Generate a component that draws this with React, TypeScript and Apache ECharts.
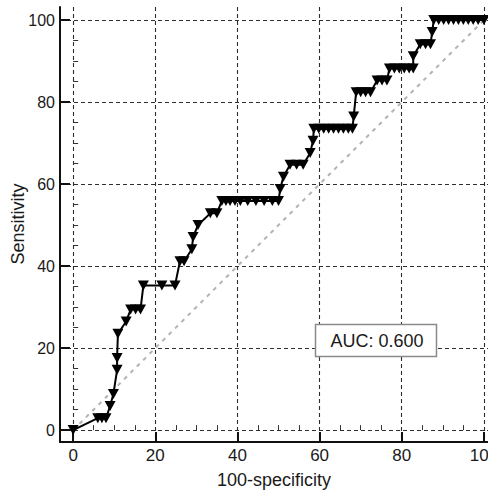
import React, { useEffect, useRef } from "react";
import * as echarts from "echarts";

// 100-specificity (x) and sensitivity (y) of each ROC point
const falsePositive = [
  0, 6, 7, 8, 9, 9.8, 10.7, 10.7, 10.9, 12.9, 14, 15.2, 16.4, 17.1, 21.6, 24.8,
  26, 27, 28.9, 29.2, 30.4, 33.4, 35, 36.2, 37.2, 38.2, 39.4, 40.7, 42.5, 44.5,
  46.5, 48.5, 50, 50.4, 51.2, 52.8, 54.4, 56, 57.7, 58.4, 58.6, 59.8, 61, 62.2,
  63.4, 64.6, 65.8, 67, 68, 68.3, 68.9, 70, 71.2, 72.4, 74, 75.2, 76.4, 77, 78.2,
  79.4, 80.6, 81.8, 82.8, 82.8, 84.5, 85.8, 87, 87.4, 87.8, 89, 90.2, 91.4, 92.6,
  93.8, 95, 96.2, 97.4, 98.6, 100,
];
const sensitivity = [
  0, 2.9, 2.9, 2.9, 5.9, 8.8, 14.7, 17.6, 23.5, 26.5, 29.4, 29.4, 29.4, 35.3,
  35.3, 35.3, 41.2, 41.2, 44.1, 47.1, 50, 52.9, 52.9, 55.9, 55.9, 55.9, 55.9,
  55.9, 55.9, 55.9, 55.9, 55.9, 55.9, 58.8, 61.8, 64.7, 64.7, 64.7, 67.6, 70.6,
  73.5, 73.5, 73.5, 73.5, 73.5, 73.5, 73.5, 73.5, 73.5, 76.5, 82.4, 82.4, 82.4,
  82.4, 85.3, 85.3, 85.3, 88.2, 88.2, 88.2, 88.2, 88.2, 88.2, 91.2, 94.1, 94.1,
  94.1, 97.1, 100, 100, 100, 100, 100, 100, 100, 100, 100, 100, 100,
];
const referenceX = [0, 100];
const referenceY = [0, 100];
const majorTicks = [0, 20, 40, 60, 80, 100];
const minorTicks = [5, 10, 15, 25, 30, 35, 45, 50, 55, 65, 70, 75, 85, 90, 95];
const aucLabel = "AUC: 0.600";
const xTitle = "100-specificity";
const yTitle = "Sensitivity";

const FONT = "'Liberation Sans', Arial, Helvetica, sans-serif";
const TEXT = "#1a1a1a";

export default function App() {
  const ref = useRef<HTMLDivElement>(null);
  useEffect(() => {
    if (!ref.current) return;
    const chart = echarts.init(ref.current, undefined, { renderer: "svg" });
    const xMin = -3.2;
    const xMax = 101;
    const yMin = -2.9;
    const yMax = 103.2;
    const gridLine = { show: true, lineStyle: { color: "#2e2e2e", type: [4, 3] as any, width: 1.1 } };
    chart.setOption({
      animation: false,
      backgroundColor: "#fff",
      textStyle: { fontFamily: FONT },
      grid: { left: 60, right: 0, top: 7, bottom: 48, containLabel: false, outerBoundsMode: "none" },
      xAxis: [
        {
          type: "value",
          min: xMin,
          max: xMax,
          position: "bottom",
          name: xTitle,
          nameLocation: "middle",
          nameGap: 29,
          nameTextStyle: { fontSize: 18, color: TEXT, fontFamily: FONT },
          axisLine: { show: true, onZero: false, lineStyle: { color: "#111", width: 2 } },
          axisTick: { show: true, inside: true, length: 10, customValues: majorTicks, lineStyle: { color: "#111", width: 2 } },
          axisLabel: { show: true, customValues: majorTicks, fontSize: 17, color: TEXT, margin: 5, fontFamily: FONT },
          splitLine: gridLine,
        },
        {
          type: "value",
          min: xMin,
          max: xMax,
          position: "bottom",
          axisLine: { show: false },
          axisTick: { show: true, inside: true, length: 5, customValues: minorTicks, lineStyle: { color: "#333", width: 1 } },
          axisLabel: { show: false },
          splitLine: { show: false },
        },
      ],
      yAxis: [
        {
          type: "value",
          min: yMin,
          max: yMax,
          position: "left",
          axisLine: { show: true, onZero: false, lineStyle: { color: "#111", width: 2 } },
          axisTick: { show: true, inside: true, length: 10, customValues: majorTicks, lineStyle: { color: "#111", width: 2 } },
          axisLabel: { show: true, customValues: majorTicks, fontSize: 16, color: TEXT, margin: 5, fontFamily: FONT },
          splitLine: gridLine,
        },
        {
          type: "value",
          min: yMin,
          max: yMax,
          position: "left",
          axisLine: { show: false },
          axisTick: { show: true, inside: true, length: 5, customValues: minorTicks, lineStyle: { color: "#333", width: 1 } },
          axisLabel: { show: false },
          splitLine: { show: false },
        },
      ],
      series: [
        {
          type: "line",
          xAxisIndex: 0,
          yAxisIndex: 0,
          data: referenceX.map((x, i) => [x, referenceY[i]]),
          symbol: "none",
          lineStyle: { color: "#b3b3b3", width: 2, type: [4, 5] as any },
          z: 2,
          silent: true,
        },
        {
          type: "line",
          xAxisIndex: 0,
          yAxisIndex: 0,
          data: falsePositive.map((x, i) => [x, sensitivity[i]]),
          symbol: "triangle",
          symbolRotate: 180,
          symbolSize: [11, 10],
          showAllSymbol: true,
          itemStyle: { color: "#000" },
          lineStyle: { color: "#000", width: 2 },
          z: 3,
          silent: true,
        },
      ],
      graphic: [
        {
          type: "text",
          z: 50,
          x: 17.5,
          y: 224,
          rotation: Math.PI / 2,
          style: {
            text: yTitle,
            fontSize: 18,
            fontFamily: FONT,
            fill: TEXT,
            textAlign: "center",
            textVerticalAlign: "middle",
          },
        },
        {
          type: "rect",
          z: 100,
          shape: { x: 315.5, y: 324.5, width: 121, height: 32 },
          style: { fill: "#fff", stroke: "#8a8a8a", lineWidth: 1.5 },
        },
        {
          type: "text",
          z: 101,
          x: 377,
          y: 341,
          style: {
            text: aucLabel,
            fontSize: 18,
            fontFamily: FONT,
            fill: TEXT,
            textAlign: "center",
            textVerticalAlign: "middle",
          },
        },
      ],
    });
    return () => chart.dispose();
  }, []);
  return (
    <div
      ref={ref}
      style={{ position: "fixed", left: 0, top: 0, width: 488, height: 490, background: "#fff" }}
    />
  );
}
